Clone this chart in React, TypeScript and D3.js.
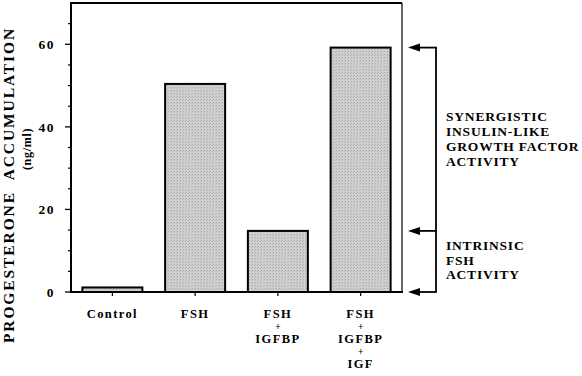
import React from "react";
import * as d3 from "d3";

const categories: string[][] = [
  ["Control"],
  ["FSH"],
  ["FSH", "+", "IGFBP"],
  ["FSH", "+", "IGFBP", "+", "IGF"],
];
const values: number[] = [1.1, 50.4, 14.8, 59.2];
const yTicksMajor: number[] = [0, 20, 40, 60];
const yTicksMinor: number[] = [5, 10, 15, 25, 30, 35, 45, 50, 55, 65];
const yTitle = "PROGESTERONE  ACCUMULATION";
const yUnit = "(ng/ml)";
const synergyText: string[] = ["SYNERGISTIC", "INSULIN-LIKE", "GROWTH FACTOR", "ACTIVITY"];
const intrinsicText: string[] = ["INTRINSIC", "FSH", "ACTIVITY"];

const W = 582;
const H = 376;
const FONT = "'Liberation Serif', 'Times New Roman', serif";

function layoutLines(lines: string[], start: number) {
  const out: { s: string; y: number; plus: boolean }[] = [];
  let yy = start;
  lines.forEach((s, j) => {
    if (j > 0) yy += lines[j - 1] === "+" ? 13.5 : 11.5;
    out.push({ s, y: yy, plus: s === "+" });
  });
  return out;
}

export default function App() {
  const left = 71, right = 402, top = 3, bottom = 292;
  const y = d3.scaleLinear().domain([0, 70]).range([bottom, top]);
  const x = d3
    .scaleBand<number>()
    .domain(d3.range(categories.length))
    .range([left, right])
    .paddingInner(0.275)
    .paddingOuter(0.1375);

  const bracketX = 436;
  const arrowTip = 408;
  const headLen = 12;
  const arrowVals = [values[3], values[2], 0];

  return (
    <div style={{ position: "absolute", left: 0, top: 0 }}>
      <svg width={W} height={H} style={{ display: "block", background: "#fff" }}>
        <defs>
          <pattern id="stip" width="3" height="3" patternUnits="userSpaceOnUse">
            <rect width="3" height="3" fill="#d0d0d0" />
            <rect x="0" y="0" width="1" height="1" fill="#a8a8a8" />
            <rect x="2" y="1" width="1" height="1" fill="#b4b4b4" />
          </pattern>
        </defs>
        {/* bars */}
        {values.map((v, i) => (
          <rect
            key={i}
            x={x(i)!}
            y={y(v)}
            width={x.bandwidth()}
            height={y(0) - y(v)}
            fill="url(#stip)"
            stroke="#000"
            strokeWidth={2}
          />
        ))}
        {/* frame */}
        <line x1={left} x2={right} y1={top} y2={top} stroke="#000" strokeWidth={2} />
        <line x1={right} x2={right} y1={top} y2={bottom} stroke="#000" strokeWidth={1.2} />
        <line x1={left} x2={left} y1={top - 1} y2={bottom + 1} stroke="#000" strokeWidth={2} />
        <line x1={left - 1} x2={right + 1} y1={bottom} y2={bottom} stroke="#000" strokeWidth={2} />
        {/* y ticks */}
        {yTicksMajor.map((t) => (
          <g key={"M" + t}>
            <line x1={left - 6} x2={left} y1={y(t)} y2={y(t)} stroke="#000" strokeWidth={1.3} />
            <text
              x={55}
              y={y(t)}
              dy="0.35em"
              textAnchor="end"
              fontFamily={FONT}
              fontWeight="bold"
              fontSize={13.5}
              letterSpacing={1.5}
            >
              {t}
            </text>
          </g>
        ))}
        {yTicksMinor.map((t) => (
          <line key={"m" + t} x1={left - 3} x2={left} y1={y(t)} y2={y(t)} stroke="#000" strokeWidth={1.2} />
        ))}
        {/* x ticks and labels */}
        {categories.map((lines, i) => {
          const cx = x(i)! + x.bandwidth() / 2;
          return (
            <g key={"c" + i}>
              <line x1={cx} x2={cx} y1={bottom} y2={bottom + 4} stroke="#000" strokeWidth={1.2} />
              {layoutLines(lines, 318).map((l, j) => (
                <text
                  key={j}
                  x={cx}
                  y={l.y}
                  textAnchor="middle"
                  fontFamily={FONT}
                  fontWeight="bold"
                  fontSize={l.plus ? 9.5 : 12.5}
                  letterSpacing={l.plus ? 0 : 1.4}
                >
                  {l.s}
                </text>
              ))}
            </g>
          );
        })}
        {/* y title */}
        <text
          transform={`translate(14,185) rotate(-90)`}
          textAnchor="middle"
          fontFamily={FONT}
          fontWeight="bold"
          fontSize={15.5}
          letterSpacing={1.9}
          style={{ whiteSpace: "pre" }}
        >
          {yTitle}
        </text>
        <text
          transform={`translate(31,149) rotate(-90)`}
          textAnchor="middle"
          fontFamily={FONT}
          fontWeight="bold"
          fontSize={12}
          letterSpacing={0.7}
        >
          {yUnit}
        </text>
        {/* bracket */}
        <line x1={bracketX} x2={bracketX} y1={y(arrowVals[0])} y2={y(0)} stroke="#000" strokeWidth={1.8} />
        {arrowVals.map((v, i) => {
          const yy = y(v);
          return (
            <g key={"a" + i}>
              <line x1={arrowTip + headLen - 1} x2={bracketX + 0.9} y1={yy} y2={yy} stroke="#000" strokeWidth={1.8} />
              <path
                d={`M${arrowTip},${yy} L${arrowTip + headLen},${yy - 4} L${arrowTip + headLen},${yy + 4} Z`}
                fill="#000"
              />
            </g>
          );
        })}
        {synergyText.map((s, j) => (
          <text
            key={"s" + j}
            x={446}
            y={121 + j * 15}
            fontFamily={FONT}
            fontWeight="bold"
            fontSize={13.5}
            letterSpacing={0.8}
          >
            {s}
          </text>
        ))}
        {intrinsicText.map((s, j) => (
          <text
            key={"i" + j}
            x={446}
            y={250 + j * 14.5}
            fontFamily={FONT}
            fontWeight="bold"
            fontSize={13.5}
            letterSpacing={0.8}
          >
            {s}
          </text>
        ))}
      </svg>
    </div>
  );
}
